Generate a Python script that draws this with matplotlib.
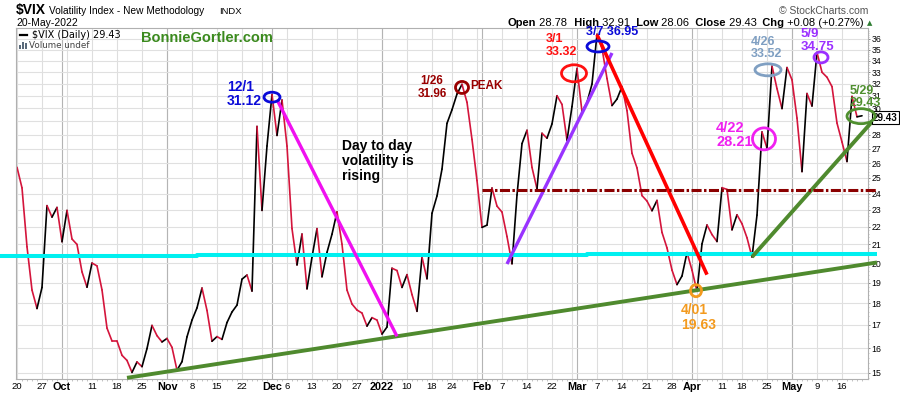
#!/usr/bin/env python3
"""$VIX daily line chart, StockCharts style, with hand drawn trend notes."""

import numpy as np
import pandas as pd
import matplotlib
matplotlib.use("Agg")
from matplotlib import pyplot as plt
from matplotlib.collections import LineCollection
from matplotlib.lines import Line2D
from matplotlib.patches import Ellipse, Rectangle
from matplotlib.ticker import FixedLocator, FixedFormatter, NullFormatter
import matplotlib.transforms as mtransforms

W, H, DPI = 900, 396, 100
OUTPUT_FILE = "out.png"

# Trading calendar of the window
START, END = "2021-09-20", "2022-05-20"
HOLIDAYS = ["2021-11-25", "2021-12-24", "2022-01-17", "2022-02-21", "2022-04-15"]

# Daily closes, one list per month
sep_2021 = [25.71, 24.36, 20.87, 18.63, 17.75, 18.76, 23.25, 22.56, 23.14]
oct_2021 = [21.15, 22.96, 21.30, 21.00, 19.54, 18.77, 20.00, 19.85, 18.64, 16.86, 16.30,
            16.30, 15.70, 15.49, 15.01, 15.43, 15.24, 15.98, 16.98, 16.53, 16.26]
nov_2021 = [16.41, 16.03, 15.10, 15.44, 16.48, 17.22, 17.78, 18.73, 17.66, 16.29, 16.49,
            16.37, 17.11, 17.59, 17.91, 19.17, 19.38, 18.58, 28.62, 22.96, 27.19]
dec_2021 = [31.12, 27.95, 30.67, 27.18, 21.89, 19.90, 21.58, 18.69, 20.31, 21.89, 19.29,
            20.57, 21.57, 22.87, 21.01, 18.63, 17.96, 17.68, 17.54, 16.95, 17.33, 17.22]
jan_2022 = [16.60, 16.91, 19.73, 19.61, 18.76, 19.40, 18.41, 17.62, 20.31, 19.19, 22.79,
            23.85, 25.59, 28.85, 29.90, 31.16, 31.96, 30.49, 27.66, 24.83]
feb_2022 = [21.96, 22.09, 24.35, 23.22, 22.86, 21.44, 19.96, 23.91, 27.36, 28.33, 25.70,
            24.29, 28.11, 27.75, 28.81, 31.02, 30.32, 27.59, 30.15]
mar_2022 = [33.32, 29.74, 30.48, 31.98, 36.45, 35.13, 32.45, 30.23, 30.75, 31.77, 29.83,
            26.67, 25.67, 23.87, 23.53, 22.94, 23.57, 21.67, 20.81, 19.63, 18.90, 19.33, 20.56]
apr_2022 = [19.63, 18.57, 21.03, 22.10, 21.55, 21.16, 24.37, 24.26, 21.82, 22.70, 22.17,
            21.37, 20.32, 22.68, 28.21, 27.02, 33.52, 31.60, 29.99, 33.40]
may_2022 = [32.34, 29.25, 25.42, 31.20, 30.19, 34.75, 32.99, 32.56, 31.77, 28.87, 27.47,
            26.10, 30.96, 29.35, 29.43]

# Bottom axis labels
XTICK_DATES = ["2021-09-20", "2021-09-27", "2021-10-01", "2021-10-11", "2021-10-18",
               "2021-10-25", "2021-11-01", "2021-11-08", "2021-11-15", "2021-11-22",
               "2021-12-01", "2021-12-06", "2021-12-13", "2021-12-20", "2021-12-27",
               "2022-01-03", "2022-01-10", "2022-01-18", "2022-01-24", "2022-02-01",
               "2022-02-07", "2022-02-14", "2022-02-22", "2022-03-01", "2022-03-07",
               "2022-03-14", "2022-03-21", "2022-03-28", "2022-04-01", "2022-04-11",
               "2022-04-18", "2022-04-25", "2022-05-02", "2022-05-09", "2022-05-16"]
XTICK_LABELS = ["20", "27", "Oct", "11", "18", "25", "Nov", "8", "15", "22", "Dec", "6",
                "13", "20", "27", "2022", "10", "18", "24", "Feb", "7", "14", "22", "Mar",
                "7", "14", "21", "28", "Apr", "11", "18", "25", "May", "9", "16"]
BOLD_LABELS = {"Oct", "Nov", "Dec", "2022", "Feb", "Mar", "Apr", "May"}
YTICKS = list(range(15, 37))

# Hand drawn lines: (dates, values)
support_long = (["2021-10-20", "2022-05-25"], [14.80, 20.03])
support_short = (["2022-04-20", "2022-05-25"], [20.32, 29.40])
dec_downtrend = (["2021-12-02", "2022-01-06"], [30.70, 16.50])
feb_uptrend = (["2022-02-08", "2022-03-10"], [19.95, 34.70])
mar_downtrend = (["2022-03-07", "2022-04-06"], [36.40, 19.40])
resistance = (["2022-02-01", "2022-05-25"], [24.20, 24.20])
cyan_support = (["2021-09-14", "2021-11-09", "2021-11-09", "2022-03-03", "2022-03-03", "2022-05-25"],
                [20.35, 20.35, 20.43, 20.43, 20.48, 20.48])

# Circled points and their notes
MARK_DATES = ["2021-12-01", "2022-01-26", "2022-03-01", "2022-03-07", "2022-04-04",
              "2022-04-22", "2022-04-26", "2022-05-09", "2022-05-20"]
MARK_VALUES = [30.9, 31.7, 32.9, 35.3, 18.6, 27.7, 33.2, 34.3, 29.4]
MARK_LABELS = ["12/1\n31.12", "1/26\n31.96", "3/1\n33.32", "3/7 36.95", "4/01\n19.63",
               "4/22\n28.21", "4/26\n33.52", "5/9\n34.75", "5/29\n29.43"]

# Header quote
QUOTE = [("Open", " 28.78"), ("High", " 32.91"), ("Low", " 28.06"),
         ("Close", " 29.43"), ("Chg", " +0.08 (+0.27%)")]

# ---------------------------------------------------------------- styles
RED = "#d4153c"
MARK_COLORS = ["#0a0ad8", "#990000", "#ff1010", "#0a0ad8", "#f39a1e",
               "#f020f0", "#7f9fc2", "#9b30ff", "#4f8f2f"]
MARK_SIZES = [(16, 10), (13, 12), (25, 17), (22, 11), (11, 12), (23, 22), (26, 12), (14, 11), (28, 15)]
MARK_SHIFT = [0, 0, -3, 1, -1, 2, -4, 4, -1]            # ring x shift, px
TEXT_OFFSETS = [(-45, 3), (-30, 0), (-28, 28), (-12, 14), (-15, -27),
                (-48, 4), (-17, 22), (-20, 17), (-11, 19)]
TEXT_SIZES = [10, 8.5, 9, 9, 10, 10.5, 9, 9.5, 9]
TEXT_HA = ["left", "center", "left", "left", "left", "left", "left", "left", "left"]

plt.rcParams["font.family"] = ["Liberation Sans", "DejaVu Sans"]


def xpos(d):
    return float(np.busday_count(START, d, holidays=HOLIDAYS))


def px(x, y):
    return x / W, 1 - y / H


dates = pd.bdate_range(START, END, freq="C", holidays=HOLIDAYS)
closes = np.array(sep_2021 + oct_2021 + nov_2021 + dec_2021 + jan_2022 +
                  feb_2022 + mar_2022 + apr_2022 + may_2022)
assert len(closes) == len(dates), (len(closes), len(dates))
xs = np.arange(len(dates), dtype=float)

fig = plt.figure(figsize=(W / DPI, H / DPI), dpi=DPI)
ax = fig.add_axes([16 / W, 1 - 379 / H, (868 - 16) / W, (379 - 28) / H])
ax.set_yscale("log")
ax.set_xlim(-0.2, 170.2)
ax.set_ylim(14.754, 37.05)

# grid: weekly and monthly verticals, integer horizontals
pos = pd.Series(xs, index=dates)
week_first = pos.groupby(dates.to_period("W")).first()
month_first = pos.groupby(dates.to_period("M")).first().iloc[1:]
for v in week_first:
    ax.axvline(v, color="#dedede", lw=0.8, zorder=0)
for v in month_first:
    ax.axvline(v, color="#b4b4b4", lw=0.8, zorder=0)
for v in YTICKS:
    ax.axhline(v, color="#e0e0e0", lw=0.8, zorder=0)

# price line, black when up, red when down
pts = np.column_stack([xs, closes])
segs = np.stack([pts[:-1], pts[1:]], axis=1)
cols = np.where(np.diff(closes) > 0, "black", RED)
ax.add_collection(LineCollection(segs, colors=cols, linewidths=1.2, zorder=2,
                                 capstyle="round", joinstyle="round"))


def trend(line, color, lw, **kw):
    d, v = line
    ax.plot([xpos(t) for t in d], v, color=color, lw=lw, clip_on=False,
            solid_capstyle="butt", zorder=3, **kw)


trend(cyan_support, "#00f0f0", 2.9)
trend(support_long, "#4f8a2e", 2.8)
trend(support_short, "#4f8a2e", 2.8)
trend(dec_downtrend, "#f010f0", 2.4)
trend(feb_uptrend, "#9933ff", 2.4)
trend(mar_downtrend, "#ff0000", 2.6)
trend(resistance, "#8b0000", 2.2, linestyle=(0, (3.3, 0.8, 0.8, 0.8)))

# rings and notes
for d, v, lab, c, (w, h), sh, (dx, dy), fs, ha in zip(
        MARK_DATES, MARK_VALUES, MARK_LABELS, MARK_COLORS, MARK_SIZES,
        MARK_SHIFT, TEXT_OFFSETS, TEXT_SIZES, TEXT_HA):
    x = xpos(d)
    tr = fig.dpi_scale_trans + mtransforms.ScaledTranslation(x, v, ax.transData)
    ring = Ellipse((sh / DPI, 0), w / DPI, h / DPI, transform=tr, fill=False,
                   ec=c, lw=2.0, clip_on=False, zorder=5)
    ax.add_artist(ring)
    ax.annotate(lab, xy=(x, v), xytext=(sh + dx, dy), textcoords="offset pixels",
                ha=ha, va="center", fontsize=fs, fontweight="bold", color=c,
                linespacing=1.05, annotation_clip=False, zorder=6)

peak_i = MARK_DATES.index("2022-01-26")
ax.annotate("PEAK", xy=(xpos(MARK_DATES[peak_i]), MARK_VALUES[peak_i]), xytext=(8, 1),
            textcoords="offset pixels", ha="left", va="center", fontsize=8.5,
            fontweight="bold", color="#990000", annotation_clip=False, zorder=6)

ax.text(0.3823, 0.684, "Day to day\nvolatility is\nrising", transform=ax.transAxes,
        ha="left", va="top", fontsize=10, fontweight="bold", linespacing=1.1, zorder=6)

# axes styling
for s in ax.spines.values():
    s.set_color("#b0b0b0")
    s.set_linewidth(0.8)

ax.yaxis.set_ticks_position("right")
ax.yaxis.set_major_locator(FixedLocator(YTICKS))
ax.yaxis.set_major_formatter(FixedFormatter([str(v) for v in YTICKS]))
ax.yaxis.set_minor_locator(FixedLocator(np.arange(14.8, 37.0, 0.2)))
ax.yaxis.set_minor_formatter(NullFormatter())
ax.tick_params(axis="y", which="major", length=1.7, width=0.7, color="#888888",
               pad=0.8, labelsize=6.3)
ax.tick_params(axis="y", which="minor", length=1.0, width=0.5, color="#aaaaaa")

ax.set_xticks([xpos(d) for d in XTICK_DATES])
ax.set_xticklabels(XTICK_LABELS)
for t in ax.get_xticklabels():
    if t.get_text() in BOLD_LABELS:
        t.set_fontweight("bold")
        t.set_fontsize(7.8)
    else:
        t.set_fontsize(6.8)
ax.xaxis.set_minor_locator(FixedLocator(xs))
ax.tick_params(axis="x", which="major", length=0, pad=2.5)
ax.tick_params(axis="x", which="minor", length=1.2, width=0.5, color="#aaaaaa")

# last price box
ax.annotate(f"{closes[-1]:.2f}", xy=(1, closes[-1]), xycoords=("axes fraction", "data"),
            xytext=(5, -2), textcoords="offset pixels", ha="left", va="center",
            fontsize=7, fontweight="bold", annotation_clip=False,
            bbox=dict(boxstyle="square,pad=0.15", fc="white", ec="black", lw=0.8))

# in-chart legend
fig.add_artist(Line2D([20 / W, 27 / W], [1 - 35 / H] * 2, color="black", lw=1.6))
fig.text(*px(31.5, 38.3), f"$VIX (Daily) {closes[-1]:.2f}", fontsize=7,
         family="DejaVu Sans", va="baseline")
fig.text(*px(141.5, 41.5), "BonnieGortler.com", fontsize=10.5, fontweight="bold",
         color="#3b8a1e", va="baseline")
for bx, bh in [(18.5, 4), (21.5, 6.5), (24.5, 5)]:
    fig.add_artist(Rectangle(px(bx, 48.5), 2 / W, bh / H, transform=fig.transFigure,
                             fc="#5a6a7a", ec="none"))
fig.text(*px(29, 48.5), "Volume undef", fontsize=6.3, family="DejaVu Sans",
         color="#444444", va="baseline")

# header
fig.text(*px(16, 14), "$VIX", fontsize=10, fontweight="bold", va="baseline")
fig.text(*px(49, 13.5), "Volatility Index - New Methodology", fontsize=7.3, va="baseline")
fig.text(*px(219, 13.5), "INDX", fontsize=6.8, va="baseline")
fig.text(*px(16, 26), "20-May-2022", fontsize=7.5, va="baseline")
fig.text(*px(868, 13.5), "\u00a9 StockCharts.com", fontsize=7.5, color="#555555",
         ha="right", va="baseline")

prev = fig.text(*px(508, 25.5), QUOTE[0][0], fontsize=8, fontweight="bold", va="baseline")
first = True
for lab, val in QUOTE:
    if not first:
        prev = ax.annotate("  " + lab, xy=(1, 0), xycoords=prev, va="bottom", ha="left",
                           fontsize=8, fontweight="bold", annotation_clip=False)
    first = False
    prev = ax.annotate(val, xy=(1, 0), xycoords=prev, va="bottom", ha="left",
                       fontsize=8, annotation_clip=False)
ax.annotate("\u25b2", xy=(1, 0), xycoords=prev, xytext=(3, 1.5), textcoords="offset pixels",
            va="bottom", ha="left", fontsize=5, family="DejaVu Sans", color="#2e7d32",
            annotation_clip=False)

fig.savefig(OUTPUT_FILE, dpi=DPI)
plt.close(fig)
